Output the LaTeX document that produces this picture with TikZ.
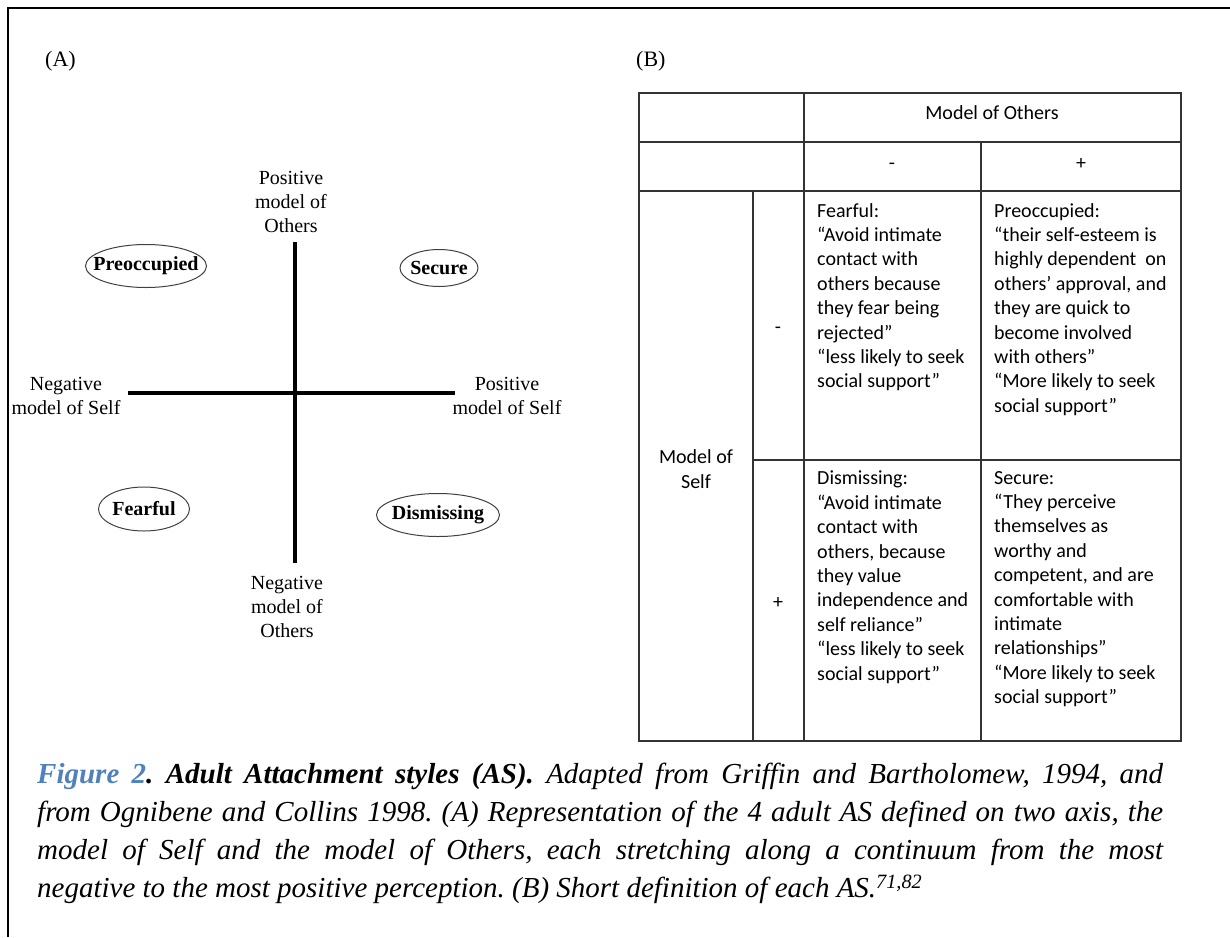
\documentclass[tikz,border=0pt]{standalone}
\usepackage{fontspec}
\setmainfont{Liberation Serif}
\newfontfamily\cellfont{Carlito}
\definecolor{capblue}{HTML}{4F81BD}
\frenchspacing

\begin{document}
\begin{tikzpicture}[x = 1pt, y = -1pt,
		lbl/.style = {align = center, inner sep = 0pt, font = \fontsize{20}{24}\selectfont},
		quad/.style = {inner sep = 0pt, font = \fontsize{20}{24}\selectfont\bfseries},
		ring/.style = {draw = black!75, line width = 1pt},
		axis/.style = {line width = 4pt},
		grid/.style = {draw = black!80, line width = 1.6pt},
		cell/.style = {anchor = north west, align = left, inner sep = 0pt, font = \cellfont\fontsize{20}{24.4}\selectfont},
		sign/.style = {anchor = base, inner sep = 0pt, font = \cellfont\fontsize{20}{24.4}\selectfont},
		part/.style = {anchor = base west, inner sep = 0pt, font = \fontsize{22}{26}\selectfont}]
		\useasboundingbox (0,0) rectangle (1230,937);
		\draw[line width = 2pt] (8,937) -- (8,8) -- (1230,8);
		\node[part] (A) at (45,66) {(A)};
		\node[part] (B) at (636,66) {(B)};
		\node[lbl] (1) at (291,202) {Positive\\model of\\Others};
		\node[lbl] (2) at (287,607) {Negative\\model of\\Others};
		\node[lbl] (3) at (66,396) {Negative\\model of Self};
		\node[lbl] (4) at (507,396) {Positive\\model of Self};
		\coordinate (t) at (295,242);
		\coordinate (b) at (295,563);
		\coordinate (l) at (128,393);
		\coordinate (r) at (455,393);
		\draw[axis] (t) -- (b);
		\draw[axis] (l) -- (r);
		\node[quad] (5) at (146,266) {Preoccupied};
		\node[quad] (6) at (439,268) {Secure};
		\node[quad] (7) at (144,509) {Fearful};
		\node[quad] (8) at (438,515) {Dismissing};
		\draw[ring] (5.center) ellipse [x radius = 60.5, y radius = 21.5];
		\draw[ring] (6.center) ellipse [x radius = 39, y radius = 18.5];
		\draw[ring] (7.center) ellipse [x radius = 45.5, y radius = 22];
		\draw[ring] (8.center) ellipse [x radius = 61.5, y radius = 21.5];
		\draw[grid] (639,93) rectangle (1181,741);
		\draw[grid] (639,142) -- (1181,142);
		\draw[grid] (639,191) -- (1181,191);
		\draw[grid] (753,460) -- (1181,460);
		\draw[grid] (804,93) -- (804,741);
		\draw[grid] (981,142) -- (981,741);
		\draw[grid] (753,191) -- (753,741);
		\node[sign] (9) at (992,119) {Model of Others};
		\node[sign] (10) at (892,169) {-};
		\node[sign] (11) at (1081,169) {+};
		\node[sign] (12) at (778,333) {-};
		\node[sign] (13) at (778,608) {+};
		\node[cell, anchor = center, align = center] (14) at (696,469) {Model of\\Self};
		\node[cell] (15) at (817,203) {Fearful:\\“Avoid intimate\\contact with\\others because\\they fear being\\rejected”\\“less likely to seek\\social support”};
		\node[cell] (16) at (994,203) {Preoccupied:\\“their self-esteem is\\highly dependent~ on\\others’ approval, and\\they are quick to\\become involved\\with others”\\“More likely to seek\\social support”};
		\node[cell] (17) at (817,471) {Dismissing:\\“Avoid intimate\\contact with\\others, because\\they value\\independence and\\self reliance”\\“less likely to seek\\social support”};
		\node[cell] (18) at (994,471) {Secure:\\“They perceive\\themselves as\\worthy and\\competent, and are\\comfortable with\\intimate\\relationships”\\“More likely to seek\\social support”};
		\node[anchor = north west, inner sep = 0pt, text width = 1126pt, align = justify, font = \fontsize{29}{38}\selectfont\itshape] (19) at (37,763) {{\bfseries\color{capblue}Figure 2}{\bfseries. Adult Attachment styles (AS).} Adapted from Griffin and Bartholomew, 1994, and\linebreak from Ognibene and Collins 1998. (A) Representation of the 4 adult AS defined on two axis, the\linebreak model of Self and the model of Others, each stretching along a continuum from the most\linebreak negative to the most positive perception. (B) Short definition of each AS.\textsuperscript{71,82}};
	\end{tikzpicture}
\end{document}
